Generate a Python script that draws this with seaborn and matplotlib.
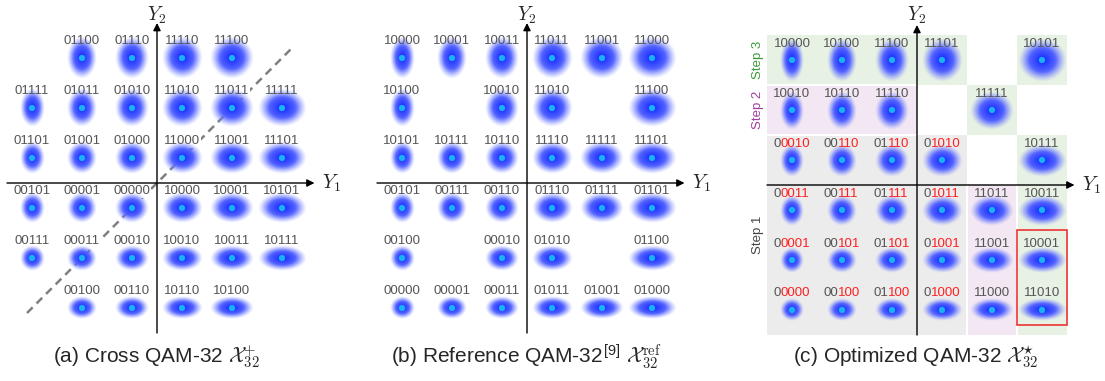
import numpy as np
import matplotlib.pyplot as plt
import seaborn as sns
from matplotlib.patches import Rectangle

sns.set_style("white")
plt.rcParams["font.family"] = ["Liberation Sans", "DejaVu Sans"]
plt.rcParams["mathtext.fontset"] = "cm"

# ---------------- data ----------------
cols = [-5, -3, -1, 1, 3, 5]
rows = [5, 3, 1, -1, -3, -5]

# half extent of the noise cloud for each column / row
spread_x = [0.48, 0.60, 0.68, 0.82, 0.88, 0.98]
spread_y = [0.86, 0.78, 0.66, 0.62, 0.52, 0.44]

labels_a = [
    ["", "01100", "01110", "11110", "11100", ""],
    ["01111", "01011", "01010", "11010", "11011", "11111"],
    ["01101", "01001", "01000", "11000", "11001", "11101"],
    ["00101", "00001", "00000", "10000", "10001", "10101"],
    ["00111", "00011", "00010", "10010", "10011", "10111"],
    ["", "00100", "00110", "10110", "10100", ""],
]
labels_b = [
    ["10000", "10001", "10011", "11011", "11001", "11000"],
    ["10100", "", "10010", "11010", "", "11100"],
    ["10101", "10111", "10110", "11110", "11111", "11101"],
    ["00101", "00111", "00110", "01110", "01111", "01101"],
    ["00100", "", "00010", "01010", "", "01100"],
    ["00000", "00001", "00011", "01011", "01001", "01000"],
]
labels_c = [
    ["10000", "10100", "11100", "11101", "", "10101"],
    ["10010", "10110", "11110", "", "11111", ""],
    ["00010", "00110", "01110", "01010", "", "10111"],
    ["00011", "00111", "01111", "01011", "11011", "10011"],
    ["00001", "00101", "01101", "01001", "11001", "10001"],
    ["00000", "00100", "01100", "01000", "11000", "11010"],
]
# design step of every point in (c)
steps_c = [
    [3, 3, 3, 3, 0, 3],
    [2, 2, 2, 0, 3, 0],
    [1, 1, 1, 1, 0, 3],
    [1, 1, 1, 1, 2, 3],
    [1, 1, 1, 1, 2, 3],
    [1, 1, 1, 1, 2, 3],
]
# leading bits kept grey in the step-1 labels, per column
grey_bits_c = [1, 2, 2, 1, 0, 0]
step_names = {1: "Step 1", 2: "Step 2", 3: "Step 3"}

# ---------------- styles ----------------
step_bg = {1: "#ececec", 2: "#f2e7f2", 3: "#e7f1e4"}
step_fg = {1: "#444444", 2: "#a23ca2", 3: "#3a9a3a"}
lab_col = "#555555"
lab_fs = 9.5
dot_col = "#18b4f2"


def blob_image(n=101):
    t = np.linspace(-1, 1, n)
    xx, yy = np.meshgrid(t, t)
    r = np.sqrt(xx**2 + yy**2)
    a = np.clip(1.5 * np.clip(1 - r**2, 0, 1) ** 1.2, 0, 1)
    core = np.array([0.06, 0.14, 1.0])
    halo = np.array([0.55, 0.60, 1.0])
    mix = np.clip(r, 0, 1)[..., None]
    img = np.zeros((n, n, 4))
    img[..., :3] = core * (1 - mix) + halo * mix
    img[..., 3] = a
    return img


BLOB = blob_image()


def make_ax(fig, left_px, width_px, cx, cy, H=340):
    W, FH = 1105, 381
    ax = fig.add_axes([left_px / W, (FH - H) / FH, width_px / W, H / FH])
    ax.set_xlim((left_px - cx) / 25, (left_px + width_px - cx) / 25)
    ax.set_ylim(-(H - cy) / 25, cy / 25)
    ax.axis("off")
    return ax


def draw_axes(ax, ylab_y):
    arrow = dict(arrowstyle="-|>", color="black", lw=1.0, mutation_scale=11,
                 shrinkA=0, shrinkB=0)
    ax.annotate("", xy=(6.3, 0), xytext=(-6.0, 0), arrowprops=arrow, zorder=6)
    ax.annotate("", xy=(0, 6.4), xytext=(0, -6.0), arrowprops=arrow, zorder=6)
    ax.text(6.62, 0.0, "$Y_1$", fontsize=14, ha="left", va="center")
    ax.text(0.0, ylab_y, "$Y_2$", fontsize=14, ha="center", va="center")


def draw_points(ax, labels, white_box=False, grey_bits=None):
    xs, ys = [], []
    for i, y in enumerate(rows):
        for j, x in enumerate(cols):
            lab = labels[i][j]
            if not lab:
                continue
            xs.append(x)
            ys.append(y)
            sx, sy = spread_x[j], spread_y[i]
            ax.imshow(BLOB, extent=[x - sx, x + sx, y - sy, y + sy],
                      interpolation="bilinear", aspect="auto", zorder=3)
            ty = y + 0.54
            if grey_bits is not None and lab[0] == "0" and grey_bits[j] > 0:
                w = 0.556 * lab_fs
                dx = -2.5 * w + grey_bits[j] * w
                k = grey_bits[j]
                ax.annotate(lab[:k], xy=(x, ty), xytext=(dx, 0),
                            textcoords="offset points", ha="right",
                            va="baseline", fontsize=lab_fs, color=lab_col, zorder=4)
                ax.annotate(lab[k:], xy=(x, ty), xytext=(dx, 0),
                            textcoords="offset points", ha="left",
                            va="baseline", fontsize=lab_fs, color="#ff2020", zorder=4)
            else:
                if white_box:
                    # white patch under the label hides the dashed line
                    ax.text(x, ty, lab, ha="center", va="baseline", fontsize=lab_fs,
                            color="white", zorder=2,
                            bbox=dict(fc="white", ec="none", pad=0.6))
                ax.text(x, ty, lab, ha="center", va="baseline",
                        fontsize=lab_fs, color=lab_col, zorder=4)
    sns.scatterplot(x=xs, y=ys, ax=ax, color=dot_col, s=20,
                    edgecolor="none", zorder=5, legend=False)


fig = plt.figure(figsize=(11.05, 3.81), dpi=100)

# (a) cross QAM-32
ax_a = make_ax(fig, 0, 345, 157, 183)
ax_a.plot([-5.2, 5.4], [-5.2, 5.4], color="#808080", lw=1.8,
          ls=(0, (3.2, 2.2)), zorder=1)
draw_points(ax_a, labels_a, white_box=True)
draw_axes(ax_a, 6.72)
ax_a.set_xlim(-157 / 25, 188 / 25)
ax_a.set_ylim(-157 / 25, 183 / 25)

# (b) reference QAM-32
ax_b = make_ax(fig, 370, 345, 157, 183)
draw_points(ax_b, labels_b)
draw_axes(ax_b, 6.72)
ax_b.set_xlim(-157 / 25, 188 / 25)
ax_b.set_ylim(-157 / 25, 183 / 25)

# (c) optimized QAM-32
ax_c = make_ax(fig, 740, 365, 177, 185)
g = 0.05
for i, y in enumerate(rows):
    for j, x in enumerate(cols):
        s = steps_c[i][j]
        if s == 0:
            continue

        def other(ii, jj):
            if 0 <= ii < 6 and 0 <= jj < 6:
                return steps_c[ii][jj] not in (0, s)
            return False

        x0 = x - 1 + (g if other(i, j - 1) else 0)
        x1 = x + 1 - (g if other(i, j + 1) else 0)
        y0 = y - 1 + (g if other(i + 1, j) else 0)
        y1 = y + 1 - (g if other(i - 1, j) else 0)
        ax_c.add_patch(Rectangle((x0, y0), x1 - x0, y1 - y0, fc=step_bg[s],
                                 ec="none", zorder=0.5))

for s in (3, 2, 1):
    ys_s = [rows[i] for i in range(6) if steps_c[i][0] == s]
    yc = (max(ys_s) + min(ys_s)) / 2
    ax_c.text(-6.36, yc, step_names[s], rotation=90, ha="center", va="center",
              fontsize=9.5, color=step_fg[s])

draw_points(ax_c, labels_c, grey_bits=grey_bits_c)
ax_c.add_patch(Rectangle((cols[5] - 1, rows[5] - 0.6), 2, 3.8, fc="none",
                         ec="#ee3333", lw=1.2, zorder=7))
draw_axes(ax_c, 6.8)
ax_c.set_xlim(-177 / 25, 188 / 25)
ax_c.set_ylim(-155 / 25, 185 / 25)

# captions
fig.text(156 / 1105, 1 - 357 / 381, r"(a) Cross QAM-32 $\mathcal{X}_{32}^{+}$",
         ha="center", va="center", fontsize=15)
fig.text(526 / 1105, 1 - 357 / 381,
         r"(b) Reference QAM-32$^{\mathregular{[9]}}$ $\mathcal{X}_{32}^{\rm ref}$",
         ha="center", va="center", fontsize=15)
fig.text(916 / 1105, 1 - 357 / 381, r"(c) Optimized QAM-32 $\mathcal{X}_{32}^{\star}$",
         ha="center", va="center", fontsize=15)

fig.savefig("out.png", dpi=100)
